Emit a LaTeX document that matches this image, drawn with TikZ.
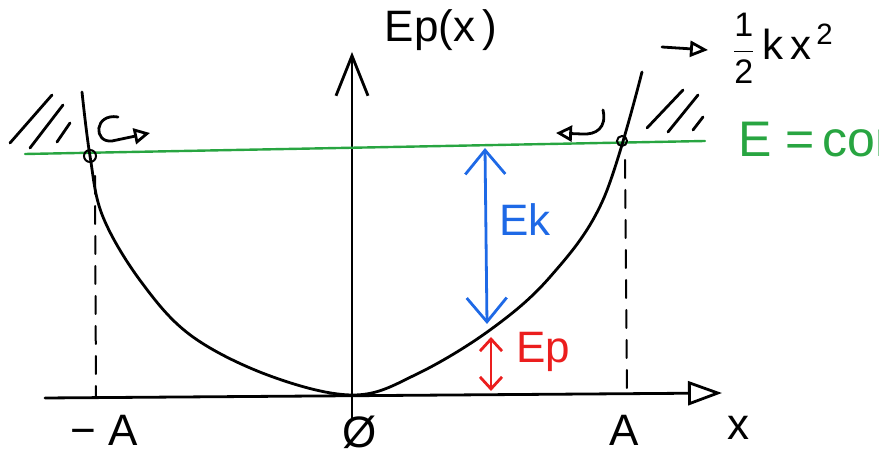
\documentclass[tikz,border=0pt]{standalone}
\usepackage{fontspec}
\setmainfont{Liberation Sans}
\usetikzlibrary{arrows.meta}
\definecolor{energygreen}{RGB}{40,165,65}
\definecolor{kineticblue}{RGB}{30,105,230}
\definecolor{potentialred}{RGB}{235,30,30}

\begin{document}
\begin{tikzpicture}[x=0.5pt,y=-0.5pt,line width=1.4pt,line cap=round,
    font=\fontsize{22}{26}\selectfont,
    barb/.style={{Straight Barb[length=12pt,width=20pt]}-{Straight Barb[length=12pt,width=20pt]}},
    smallbarb/.style={{Straight Barb[length=6pt,width=11pt]}-{Straight Barb[length=6pt,width=11pt]}},
    opentip/.style={-{Triangle[open,length=8pt,width=8pt]}}]
    \useasboundingbox (0,0) rectangle (879,458);

    \coordinate (xstart) at (45,398);
    \coordinate (xend) at (722,393);
    \coordinate (ystart) at (352,418);
    \coordinate (yend) at (352,52);
    \coordinate (Pl) at (90,156);
    \coordinate (Pr) at (622,141);

    \draw[-{Triangle[open,length=17pt,width=12pt]}] (xstart) -- (xend);
    \draw[-{Straight Barb[length=20pt,width=16pt]}] (ystart) -- (yend);

    \draw[energygreen,line width=1.2pt] (25,154) -- (705,141);
    \node[energygreen,anchor=west,font=\fontsize{25}{28}\selectfont] (econst) at (730,140) {E =\,const};

    \draw[line width=1.4pt] plot[smooth,tension=0.6] coordinates {(82,92) (90,156)
        (103,217) (142,283) (193,337) (273,377) (355,395) (417,374) (490,330)
        (550,277) (603,200) (642,72)};

    \draw[line width=1pt] (Pl) circle (6);
    \draw[line width=1pt] (Pr) circle (5);

    \draw[dashed,dash pattern=on 9pt off 6pt,line width=1pt] (95,176) -- (96,396);
    \draw[dashed,dash pattern=on 9pt off 6pt,line width=1pt] (625,160) -- (627,392);

    \draw (52,95) -- (10,143);
    \draw (63,105) -- (30,148);
    \draw (70,123) -- (57,142);
    \draw (683,90) -- (647,128);
    \draw (698,95) -- (668,132);
    \draw (703,117) -- (693,130);

    \draw[opentip] (118,117) .. controls (94,113) and (93,143) .. (112,141) -- (150,133);
    \draw[opentip] (603,110) .. controls (607,128) and (596,135) .. (582,134) -- (556,133);

    \coordinate (Ktop) at (485,148);
    \coordinate (Kbot) at (487,324);
    \coordinate (Ptop) at (491,337);
    \coordinate (Pbot) at (491,391);
    \draw[barb,kineticblue] (Ktop) -- (Kbot);
    \draw[smallbarb,potentialred] (Ptop) -- (Pbot);
    \node[kineticblue] (ek) at (525,220) {Ek};
    \node[potentialred] (ep) at (543,352) {Ep};

    \coordinate (harm) at (662,47);
    \draw[-{Triangle[open,length=9pt,width=8pt]}] (harm) -- (708,50);
    \node[anchor=base west,font=\fontsize{21}{24}\selectfont] (harmlabel) at (724,60)
        {{\fontsize{17}{20}\selectfont$\displaystyle\frac{\mathrm{1}}{\mathrm{2}}$}\,%
        $\mathrm{k}\,\mathrm{x}^{\,\mathrm{2}}$};

    \node (ylabel) at (441,30) {Ep(x\,)};
    \node (mA) at (104,430) {− A};
    \node (zero) at (360,432) {Ø};
    \node (pA) at (624,430) {A};
    \node (xlabel) at (738,428) {x};
\end{tikzpicture}
\end{document}
